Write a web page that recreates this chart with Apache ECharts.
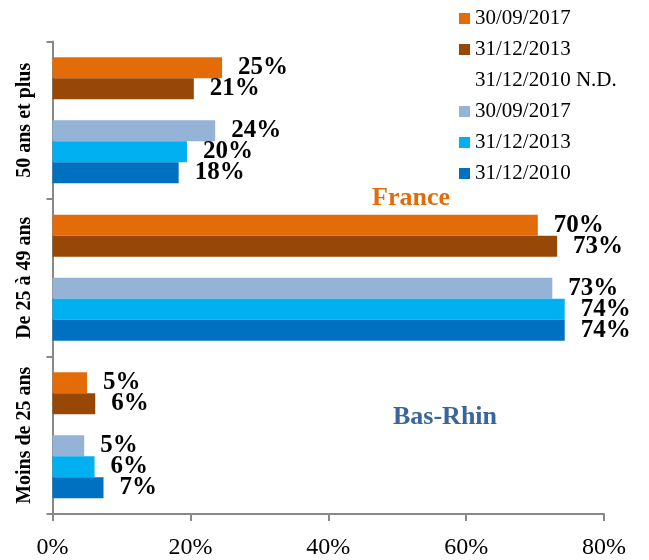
<!DOCTYPE html>
<html>
<head>
<meta charset="utf-8">
<script src="https://cdn.jsdelivr.net/npm/echarts@6/dist/echarts.min.js"></script>
<style>
  html, body { margin: 0; padding: 0; background: #fff; }
  #chart { width: 649px; height: 560px; }
</style>
</head>
<body>
<div id="chart"></div>
<script>
// age groups, top to bottom
const ageGroups = ['50 ans et plus', 'De 25 à 49 ans', 'Moins de 25 ans'];
const xTicks = ['0%', '20%', '40%', '60%', '80%'];

// France
const france2017 = [24.6, 70.4, 5.0];
const france2013 = [20.5, 73.2, 6.2];
const france2010 = [null, null, null]; // N.D.
// Bas-Rhin
const basRhin2017 = [23.6, 72.5, 4.6];
const basRhin2013 = [19.5, 74.3, 6.1];
const basRhin2010 = [18.3, 74.3, 7.4];

const serif = '"Liberation Serif", "Times New Roman", serif';

function barSeries(name, data, color) {
  return {
    type: 'bar',
    name: name,
    data: data,
    barGap: 0,
    barCategoryGap: '20%',
    itemStyle: { color: color },
    label: {
      show: true,
      position: 'right',
      distance: 16,
      color: '#000',
      fontFamily: serif,
      fontWeight: 'bold',
      fontSize: 25,
      formatter: p => Math.round(p.value) + '%'
    }
  };
}

const chart = echarts.init(document.getElementById('chart'));
chart.setOption({
  animation: false,
  backgroundColor: '#fff',
  grid: { left: 52.5, right: 45, top: 41.5, bottom: 46 },
  legend: {
    orient: 'vertical',
    left: 454,
    top: 3,
    itemGap: 10,
    itemWidth: 11,
    itemHeight: 11,
    icon: 'rect',
    selectedMode: false,
    textStyle: { fontFamily: serif, fontSize: 21, color: '#000', lineHeight: 21 },
    formatter: name => name.replace(/^(France|Bas-Rhin) /, '')
  },
  xAxis: {
    type: 'value',
    min: 0,
    max: 80,
    interval: 20,
    axisLine: { show: true, lineStyle: { color: '#888', width: 2 } },
    axisTick: { show: true, length: 7, lineStyle: { color: '#888', width: 2 } },
    splitLine: { show: false },
    axisLabel: {
      margin: 22,
      fontFamily: serif,
      fontSize: 24,
      color: '#000',
      formatter: v => xTicks[v / 20]
    }
  },
  yAxis: {
    type: 'category',
    inverse: true,
    data: ageGroups,
    axisLine: { show: true, lineStyle: { color: '#888', width: 2 } },
    axisTick: { show: true, length: 6, lineStyle: { color: '#888', width: 2 } },
    axisLabel: {
      interval: 0,
      hideOverlap: false,
      rotate: 90,
      margin: 18,
      fontFamily: serif,
      fontWeight: 'bold',
      fontSize: 20,
      color: '#000'
    }
  },
  graphic: [
    {
      type: 'text', left: 372, top: 185,
      style: { text: 'France', fill: '#E36C09', font: 'bold 26px ' + serif }
    },
    {
      type: 'text', left: 393, top: 404,
      style: { text: 'Bas-Rhin', fill: '#3A659C', font: 'bold 26px ' + serif }
    }
  ],
  series: [
    barSeries('France 30/09/2017', france2017, '#E36C09'),
    barSeries('France 31/12/2013', france2013, '#974806'),
    barSeries('France 31/12/2010 N.D.', france2010, 'transparent'),
    barSeries('Bas-Rhin 30/09/2017', basRhin2017, '#95B3D7'),
    barSeries('Bas-Rhin 31/12/2013', basRhin2013, '#00B0F0'),
    barSeries('Bas-Rhin 31/12/2010', basRhin2010, '#0070C0')
  ]
});
</script>
</body>
</html>
